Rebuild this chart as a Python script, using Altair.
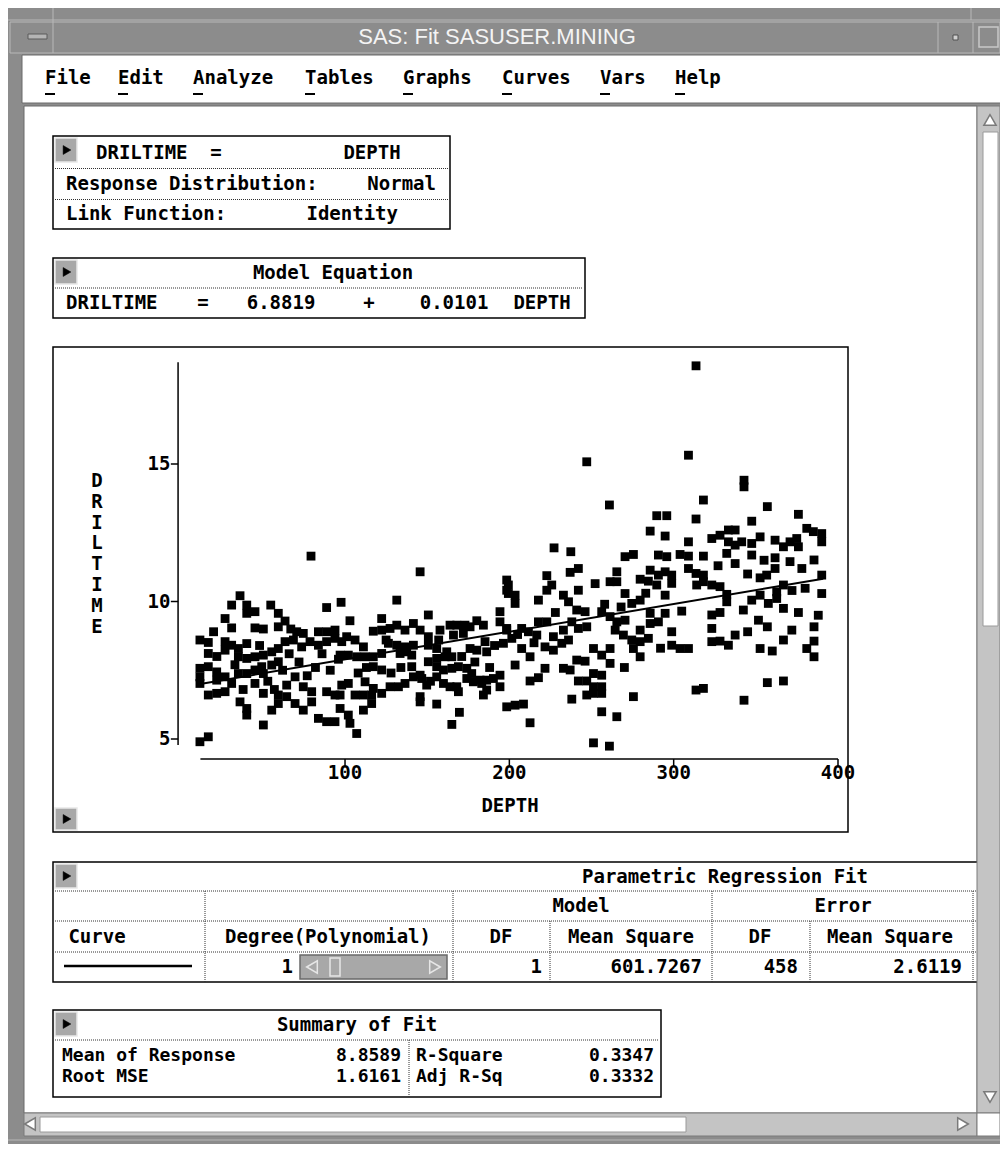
import altair as alt
import pandas as pd

# ---------------- data ----------------
# (DEPTH, DRILTIME) pairs, grouped by depth range
pts_000_100 = [
    (79.3, 11.65), (36.1, 10.21), (31.0, 9.87), (40.2, 9.87), (54.8, 9.87), (88.8, 9.78),
    (97.6, 9.97), (27.0, 9.38), (31.0, 9.04), (40.2, 9.57), (45.2, 9.63), (45.2, 9.04),
    (50.3, 9.00), (59.4, 9.57), (63.5, 9.29), (59.4, 9.08), (70.6, 8.90), (74.6, 8.84),
    (83.8, 8.90), (88.8, 8.90), (93.9, 8.96), (11.7, 8.60), (16.8, 8.51), (16.8, 8.11),
    (27.0, 8.54), (27.0, 8.23), (31.0, 8.41), (35.1, 8.29), (40.2, 8.47), (35.1, 7.99),
    (40.2, 7.93), (45.2, 7.99), (50.3, 8.05), (55.4, 8.17), (59.4, 8.29), (63.5, 8.54),
    (68.6, 8.60), (73.6, 8.35), (78.7, 8.54), (83.8, 8.41), (88.8, 8.54), (93.9, 8.66),
    (98.0, 8.54), (49.3, 7.63), (55.4, 7.69), (59.4, 7.81), (45.2, 7.51), (50.3, 7.38),
    (11.7, 7.57), (16.8, 7.63), (11.7, 7.26), (21.9, 7.44), (21.9, 7.14), (27.0, 7.26),
    (31.0, 7.02), (11.7, 7.02), (35.1, 7.38), (40.2, 7.38), (45.2, 7.02), (50.3, 6.66),
    (69.6, 7.26), (64.5, 6.96), (59.4, 6.60), (16.8, 6.60), (21.9, 6.66), (27.0, 6.72),
    (74.6, 6.90), (79.7, 6.72), (88.8, 6.72), (93.9, 6.60), (98.0, 6.96), (36.1, 6.35),
    (40.2, 6.11), (40.2, 5.87), (55.4, 6.05), (59.4, 6.29), (64.5, 6.54), (69.6, 6.29),
    (74.6, 6.05), (79.7, 6.35), (50.3, 5.51), (83.8, 5.75), (88.8, 5.63), (93.9, 5.63),
    (11.7, 4.90), (16.8, 5.08), (20.0, 8.90), (22.0, 8.00), (33.0, 7.70), (38.0, 6.80),
    (48.0, 8.40), (53.0, 7.10), (57.0, 6.80), (62.0, 7.50), (66.0, 8.10), (72.0, 7.80),
    (77.0, 7.30), (82.0, 7.60), (86.0, 8.10), (91.0, 7.50), (96.0, 7.90), (67.0, 9.00),
]
pts_100_200 = [
    (145.7, 11.08), (198.4, 10.78), (198.4, 10.41), (131.5, 10.05), (150.7, 9.51), (122.3, 9.38),
    (103.0, 9.30), (194.3, 9.63), (194.3, 9.26), (180.2, 9.30), (184.2, 9.14), (117.2, 8.92),
    (122.3, 8.96), (127.4, 9.02), (131.5, 9.14), (136.5, 8.96), (141.6, 9.20), (145.7, 8.96),
    (157.8, 8.96), (163.9, 9.14), (168.0, 9.14), (173.0, 9.14), (176.1, 9.08), (101.0, 8.72),
    (106.1, 8.60), (111.2, 8.35), (126.4, 8.48), (131.5, 8.41), (136.5, 8.35), (141.6, 8.41),
    (150.7, 8.72), (150.7, 8.41), (155.8, 8.29), (161.9, 8.17), (166.0, 8.78), (172.0, 8.84),
    (176.1, 8.29), (180.2, 8.23), (185.2, 8.54), (186.2, 8.17), (196.4, 8.48), (198.4, 8.96),
    (97.0, 8.05), (102.0, 8.05), (107.1, 7.99), (112.2, 7.99), (117.2, 7.99), (122.3, 8.11),
    (117.2, 7.63), (122.3, 7.51), (133.5, 8.11), (137.5, 8.17), (140.6, 8.05), (140.6, 7.63),
    (145.7, 7.32), (150.7, 7.81), (155.8, 7.93), (155.8, 7.63), (160.9, 7.99), (165.0, 7.99),
    (159.9, 7.51), (165.0, 7.57), (169.0, 7.63), (174.1, 7.57), (177.1, 7.38), (182.2, 7.14),
    (186.2, 7.14), (190.3, 7.20), (194.3, 7.32), (102.0, 7.02), (112.2, 7.08), (117.2, 6.84),
    (122.3, 6.66), (127.4, 6.90), (132.5, 6.90), (136.5, 7.02), (141.6, 7.26), (146.7, 7.20),
    (149.7, 6.96), (145.7, 6.54), (145.7, 6.35), (155.8, 7.26), (159.9, 7.02), (163.9, 6.90),
    (168.0, 6.90), (169.0, 6.72), (174.1, 7.20), (178.1, 7.08), (183.2, 7.02), (186.2, 6.78),
    (184.2, 6.60), (194.3, 6.90), (198.4, 6.17), (97.0, 6.60), (106.1, 6.60), (111.2, 6.60),
    (116.2, 6.60), (116.2, 6.29), (111.2, 6.05), (97.0, 6.11), (102.0, 5.87), (103.0, 5.57),
    (107.1, 5.20), (155.8, 6.27), (169.6, 5.97), (165.0, 5.53), (108.0, 7.40), (113.0, 7.60),
    (128.0, 7.40), (134.0, 7.60), (152.0, 7.10), (157.0, 8.60), (171.0, 8.00), (179.0, 7.80),
    (188.0, 7.60), (191.0, 8.40), (125.0, 8.60),
]
pts_200_300 = [
    (247.1, 15.08), (260.9, 13.51), (289.7, 13.12), (295.8, 13.12), (285.7, 12.56), (294.8, 12.38),
    (227.2, 11.95), (237.4, 11.81), (270.4, 11.63), (275.5, 11.71), (290.7, 11.69), (295.8, 11.63),
    (222.8, 10.94), (237.0, 11.06), (242.0, 11.20), (252.2, 10.65), (265.4, 11.08), (265.4, 10.72),
    (261.3, 10.72), (270.4, 10.29), (279.6, 10.81), (284.6, 10.74), (289.7, 10.60), (285.7, 11.14),
    (290.7, 10.96), (294.8, 11.08), (298.8, 10.96), (298.8, 10.66), (199.4, 10.60), (199.4, 10.29),
    (203.5, 10.23), (203.5, 9.93), (222.8, 10.41), (225.8, 10.60), (217.7, 10.05), (232.9, 10.23),
    (236.0, 9.99), (241.0, 9.69), (242.0, 10.41), (246.1, 9.63), (256.2, 9.63), (261.3, 9.45),
    (265.4, 9.26), (270.4, 9.32), (274.5, 9.93), (279.6, 10.05), (285.7, 9.57), (294.8, 9.57),
    (294.8, 10.23), (198.4, 9.02), (201.5, 8.66), (207.5, 9.02), (211.6, 8.90), (216.7, 8.78),
    (217.7, 9.26), (222.8, 9.26), (226.8, 8.72), (232.9, 8.96), (238.0, 9.26), (242.0, 9.02),
    (247.1, 9.08), (207.5, 8.29), (212.6, 7.99), (221.7, 8.35), (226.8, 8.23), (231.9, 8.48),
    (264.4, 8.96), (269.4, 8.78), (274.5, 8.60), (279.6, 8.96), (279.6, 8.54), (284.6, 8.66),
    (285.7, 9.20), (290.7, 9.26), (275.5, 8.29), (279.6, 7.99), (298.8, 8.90), (298.8, 8.41),
    (251.2, 8.29), (256.2, 8.05), (261.3, 8.29), (261.3, 7.75), (203.5, 7.69), (221.7, 7.57),
    (232.9, 7.57), (237.0, 7.51), (241.0, 7.87), (246.1, 7.83), (212.6, 7.11), (217.7, 7.23),
    (242.0, 7.11), (247.1, 7.11), (251.2, 7.38), (256.2, 7.32), (251.2, 6.90), (256.2, 6.90),
    (251.2, 6.66), (256.2, 6.66), (247.1, 6.60), (238.0, 6.45), (275.5, 6.54), (203.5, 6.23),
    (208.6, 6.27), (212.6, 5.59), (256.2, 5.99), (265.4, 5.81), (251.2, 4.86), (260.9, 4.74),
    (205.0, 8.80), (215.0, 8.50), (228.0, 9.60), (236.0, 8.60), (258.0, 9.90), (268.0, 9.80),
    (283.0, 10.30), (292.0, 8.30), (270.0, 7.60),
]
pts_300_400 = [
    (313.6, 18.57), (309.0, 15.32), (342.8, 14.41), (342.8, 14.17), (318.1, 13.69), (357.0, 13.45),
    (375.9, 13.17), (313.6, 13.00), (347.5, 12.92), (309.0, 12.17), (323.2, 12.29), (328.2, 12.41),
    (333.3, 12.60), (337.4, 12.60), (333.3, 12.17), (337.4, 12.05), (341.4, 12.17), (347.5, 12.11),
    (352.6, 12.35), (347.5, 11.69), (361.7, 12.23), (366.8, 11.99), (370.8, 12.17), (374.9, 12.29),
    (381.0, 12.66), (385.0, 12.54), (390.1, 12.47), (390.1, 12.17), (375.9, 11.99), (303.9, 11.71),
    (309.0, 11.65), (318.1, 11.65), (332.3, 11.75), (337.4, 11.38), (361.7, 11.59), (370.8, 11.45),
    (385.4, 11.51), (309.0, 11.20), (313.6, 11.02), (318.1, 10.96), (318.1, 10.72), (323.2, 10.60),
    (328.2, 10.54), (332.3, 10.26), (332.3, 9.99), (314.0, 10.60), (352.6, 10.86), (356.6, 10.96),
    (361.7, 11.20), (366.8, 10.60), (362.7, 10.35), (362.7, 10.11), (347.5, 10.05), (352.6, 10.23),
    (357.6, 9.93), (366.8, 9.75), (375.9, 9.60), (380.0, 10.48), (390.1, 10.96), (390.1, 10.29),
    (304.9, 9.65), (323.2, 9.51), (328.2, 9.60), (342.4, 9.69), (351.6, 9.32), (357.0, 9.08),
    (303.9, 8.29), (309.0, 8.29), (323.2, 9.02), (323.2, 8.54), (328.2, 8.56), (333.3, 8.41),
    (337.4, 8.78), (352.6, 8.29), (366.8, 8.60), (371.9, 8.96), (385.4, 9.08), (385.4, 8.56),
    (381.0, 8.29), (385.4, 7.99), (313.6, 6.78), (318.1, 6.84), (342.8, 6.41), (357.0, 7.05),
    (366.8, 7.11), (327.0, 11.30), (345.0, 11.00), (355.0, 11.50), (372.0, 10.40), (378.0, 11.20),
    (388.0, 9.50), (345.0, 8.90), (360.0, 8.20),
]

# fitted model (from the "Model Equation" table)
model_intercept = 6.8819
model_slope = 0.0101
fit_depth_range = [11, 391]

x_ticks = [100, 200, 300, 400]
y_ticks = [5, 10, 15]

# ---------------- scales ----------------
W, H = 992, 1136
PX = alt.Scale(domain=[8, 8 + W], range=[0, W])          # window pixel space
PY = alt.Scale(domain=[8, 8 + H], range=[0, H])
SX = alt.Scale(domain=[0, 400], range=[172.7, 830])      # DEPTH axis of the plot panel
SY = alt.Scale(domain=[5, 15], range=[731, 456])         # DRILTIME axis of the plot panel

MONO = "DejaVu Sans Mono"
FS = 19
layers = []


def rects(rows):
    df = pd.DataFrame(rows, columns=["x", "y", "x2", "y2", "fill", "stroke", "sw"])
    return alt.Chart(df).mark_rect().encode(
        x=alt.X("x:Q", scale=PX, axis=None), x2="x2:Q",
        y=alt.Y("y:Q", scale=PY, axis=None), y2="y2:Q",
        fill=alt.Fill("fill:N", scale=None),
        stroke=alt.Stroke("stroke:N", scale=None),
        strokeWidth=alt.StrokeWidth("sw:Q", scale=None),
    )


def rules(rows, color="#000000", width=1.0, dash=None):
    df = pd.DataFrame(rows, columns=["x", "y", "x2", "y2"])
    kw = dict(color=color, strokeWidth=width)
    if dash:
        kw["strokeDash"] = dash
    return alt.Chart(df).mark_rule(**kw).encode(
        x=alt.X("x:Q", scale=PX, axis=None), x2="x2:Q",
        y=alt.Y("y:Q", scale=PY, axis=None), y2="y2:Q",
    )


def texts(rows, align="left", font=MONO, size=FS, weight="bold", color="#000000"):
    df = pd.DataFrame(rows, columns=["x", "y", "t"])
    return alt.Chart(df).mark_text(
        align=align, baseline="middle", font=font, fontSize=size,
        fontWeight=weight, color=color,
    ).encode(
        x=alt.X("x:Q", scale=PX, axis=None),
        y=alt.Y("y:Q", scale=PY, axis=None),
        text="t:N",
    )


def tris(rows, shape, size, fill, stroke, sw=1.0, filled=True):
    df = pd.DataFrame(rows, columns=["x", "y"])
    kw = dict(shape=shape, size=size, opacity=1, stroke=stroke, strokeWidth=sw, filled=filled)
    if filled:
        kw["fill"] = fill
    return alt.Chart(df).mark_point(**kw).encode(
        x=alt.X("x:Q", scale=PX, axis=None),
        y=alt.Y("y:Q", scale=PY, axis=None),
    )


FRAME = "#8c8c8c"
LIGHT = "#c4c4c4"

# ---------------- window chrome ----------------
layers.append(rects([
    (8, 8, 1000, 1144, FRAME, "transparent", 0),
    (10, 22, 1000, 53, FRAME, "#b8b8b8", 1),            # title bar
    (28, 34, 47, 39, "#b4b4b4", "#5a5a5a", 1),          # left window button
    (953, 35, 958, 40, "#d0d0d0", "#505050", 1),        # small dot button
    (979, 27, 998, 47, FRAME, "#c8c8c8", 1.5),          # square button
    (22, 55, 1001, 103, "#ffffff", "#6a6a6a", 1),       # menu bar
    (24, 106, 977, 1113, "#ffffff", "#6a6a6a", 1),      # content area
]))
layers.append(rules([
    (8, 20, 1000, 20), (53, 8, 53, 53), (971, 8, 971, 20),
    (938, 22, 938, 53), (973, 22, 973, 53), (8, 1140, 1000, 1140),
], color="#b8b8b8", width=1))
layers.append(texts([(497, 37, "SAS: Fit SASUSER.MINING")], align="center",
                    font="Liberation Sans", size=22, weight="normal", color="#f4f4f4"))

menu_rows = [(45, 78, "File"), (118, 78, "Edit"), (193, 78, "Analyze"), (305, 78, "Tables"),
             (403, 78, "Graphs"), (502, 78, "Curves"), (600, 78, "Vars"), (675, 78, "Help")]
layers.append(texts(menu_rows))
layers.append(rules([(x, 94, x + 10, 94) for x, _, _ in menu_rows], width=2))

# ---------------- table boxes ----------------
layers.append(rects([
    (53, 136, 450, 229, "#ffffff", "#000000", 1.5),
    (53, 258, 585, 318, "#ffffff", "#000000", 1.5),
    (53, 347, 848, 832, "#ffffff", "#000000", 1.5),
    (53, 862, 990, 982, "#ffffff", "#000000", 1.5),
    (53, 1010, 661, 1097, "#ffffff", "#000000", 1.5),
    # menu buttons
    (55, 138, 77, 162, "#a8a8a8", "#e8e8e8", 1.5),
    (55, 260, 77, 284, "#a8a8a8", "#e8e8e8", 1.5),
    (55, 808, 77, 830, "#a8a8a8", "#e8e8e8", 1.5),
    (55, 864, 77, 888, "#a8a8a8", "#e8e8e8", 1.5),
    (55, 1012, 77, 1036, "#a8a8a8", "#e8e8e8", 1.5),
    # degree slider
    (300, 955, 447, 979, "#a8a8a8", "#6a6a6a", 1.5),
    (330, 958, 340, 976, "#a8a8a8", "#e6e6e6", 1.5),
]))
layers.append(tris([(67, 150), (67, 272), (67, 819), (67, 876), (67, 1024)],
                   "triangle-right", 80, "#000000", "#000000", 0.5))
layers.append(tris([(312, 967)], "triangle-left", 150, "#a8a8a8", "#e6e6e6", 1.5, filled=False))
layers.append(tris([(435, 967)], "triangle-right", 150, "#a8a8a8", "#e6e6e6", 1.5, filled=False))

layers.append(rules([
    (55, 168.5, 448, 168.5), (55, 199.5, 448, 199.5),
    (55, 288, 583, 288),
    (55, 891, 977, 891), (55, 921, 977, 921), (55, 952, 977, 952),
    (205, 891, 205, 982), (453, 891, 453, 982), (712, 891, 712, 982), (973, 891, 973, 982),
    (550, 921, 550, 982), (810, 921, 810, 982),
    (55, 1040, 659, 1040), (409, 1040, 409, 1097),
], color="#303030", width=1, dash=[1, 1]))
layers.append(rules([(64, 966, 192, 966)], width=2.5))

layers.append(texts([
    (96, 153, "DRILTIME"), (66, 184, "Response Distribution:"), (66, 214, "Link Function:"),
    (66, 303, "DRILTIME"),
]))
layers.append(texts([
    (62, 1056, "Mean of Response"), (416, 1056, "R-Square"),
    (62, 1077, "Root MSE"), (416, 1077, "Adj R-Sq"),
], size=18))
layers.append(texts([
    (216, 153, "="), (372, 153, "DEPTH"),
    (333, 273, "Model Equation"), (203, 303, "="), (281, 303, "6.8819"), (369, 303, "+"),
    (454, 303, "0.0101"), (542, 303, "DEPTH"),
    (725, 877, "Parametric Regression Fit"), (581, 906, "Model"), (843, 906, "Error"),
    (97, 937, "Curve"), (328, 937, "Degree(Polynomial)"), (501, 937, "DF"),
    (631, 937, "Mean Square"), (760, 937, "DF"), (890, 937, "Mean Square"),
    (357, 1025, "Summary of Fit"),
    (510, 806, "DEPTH"),
], align="center"))
layers.append(texts([
    (436, 184, "Normal"), (398, 214, "Identity"),
    (293, 967, "1"), (542, 967, "1"), (702, 967, "601.7267"), (798, 967, "458"), (962, 967, "2.6119"),
], align="right"))
layers.append(texts([
    (401, 1056, "8.8589"), (654, 1056, "0.3347"), (401, 1077, "1.6161"), (654, 1077, "0.3332"),
], align="right", size=18))

# vertical y-axis title
ytitle = pd.DataFrame({"x": [97], "y": [472], "t": ["D\nR\nI\nL\nT\nI\nM\nE"]})
layers.append(alt.Chart(ytitle).mark_text(
    align="center", baseline="top", font=MONO, fontSize=FS, fontWeight="bold",
    lineBreak="\n", lineHeight=20.8, color="#000000",
).encode(x=alt.X("x:Q", scale=PX, axis=None), y=alt.Y("y:Q", scale=PY, axis=None), text="t:N"))

# ---------------- scatter panel ----------------
pts = pd.DataFrame(pts_000_100 + pts_100_200 + pts_200_300 + pts_300_400,
                   columns=["DEPTH", "DRILTIME"])
layers.append(alt.Chart(pts).mark_square(size=78, color="#000000", opacity=1, strokeWidth=0).encode(
    x=alt.X("DEPTH:Q", scale=SX, axis=None),
    y=alt.Y("DRILTIME:Q", scale=SY, axis=None),
))

fit = pd.DataFrame({"DEPTH": fit_depth_range})
fit["DRILTIME"] = model_intercept + model_slope * fit["DEPTH"]
layers.append(alt.Chart(fit).mark_line(color="#000000", strokeWidth=2).encode(
    x=alt.X("DEPTH:Q", scale=SX, axis=None),
    y=alt.Y("DRILTIME:Q", scale=SY, axis=None),
))

# axis lines and ticks (in data units of the panel)
axis_lines = pd.DataFrame({"x": [-1.6, 12], "x2": [-1.6, 400], "y": [4.78, 4.27], "y2": [18.7, 4.27]})
layers.append(alt.Chart(axis_lines).mark_rule(color="#000000", strokeWidth=1.5).encode(
    x=alt.X("x:Q", scale=SX, axis=None), x2="x2:Q",
    y=alt.Y("y:Q", scale=SY, axis=None), y2="y2:Q",
))
xt = pd.DataFrame({"v": x_ticks})
layers.append(alt.Chart(xt).mark_rule(color="#000000", strokeWidth=1.5).encode(
    x=alt.X("v:Q", scale=SX, axis=None),
    y=alt.Y("a:Q", scale=SY, axis=None), y2="b:Q",
).transform_calculate(a="4.27", b="4.03"))
layers.append(alt.Chart(xt).mark_text(
    align="center", baseline="middle", font=MONO, fontSize=FS, fontWeight="bold", color="#000000",
).encode(
    x=alt.X("v:Q", scale=SX, axis=None),
    y=alt.Y("p:Q", scale=SY, axis=None),
    text="v:N",
).transform_calculate(p="3.76"))
yt = pd.DataFrame({"v": y_ticks})
layers.append(alt.Chart(yt).mark_rule(color="#000000", strokeWidth=1.5).encode(
    x=alt.X("a:Q", scale=SX, axis=None), x2="b:Q",
    y=alt.Y("v:Q", scale=SY, axis=None),
).transform_calculate(a="-6.0", b="-1.6"))
layers.append(alt.Chart(yt).mark_text(
    align="right", baseline="middle", font=MONO, fontSize=FS, fontWeight="bold", color="#000000",
).encode(
    x=alt.X("p:Q", scale=SX, axis=None),
    y=alt.Y("v:Q", scale=SY, axis=None),
    text="v:N",
).transform_calculate(p="-6.2"))

# ---------------- scrollbars (drawn last, over content edge) ----------------
layers.append(rects([
    (977, 106, 1000, 1113, LIGHT, "#7a7a7a", 1),
    (983, 132, 998, 626, "#ffffff", "#9a9a9a", 1),
    (24, 1113, 977, 1136, LIGHT, "#7a7a7a", 1),
    (40, 1117, 686, 1132, "#ffffff", "#9a9a9a", 1),
    (977, 1113, 1000, 1136, "#ffffff", "#7a7a7a", 1),
]))
layers.append(tris([(990, 120)], "triangle-up", 150, "#ffffff", "#7a7a7a", 1.5))
layers.append(tris([(990, 1097)], "triangle-down", 150, "#ffffff", "#7a7a7a", 1.5))
layers.append(tris([(30, 1124)], "triangle-left", 150, "#ffffff", "#7a7a7a", 1.5))
layers.append(tris([(963, 1124)], "triangle-right", 150, "#ffffff", "#7a7a7a", 1.5))

chart = alt.layer(*layers).resolve_scale(x="independent", y="independent").properties(
    width=W, height=H, padding=0, autosize=alt.AutoSizeParams(type="none"),
    background="#ffffff",
).configure_view(strokeWidth=0)

chart.save("out.html", embed_options={"renderer": "svg", "actions": False})
